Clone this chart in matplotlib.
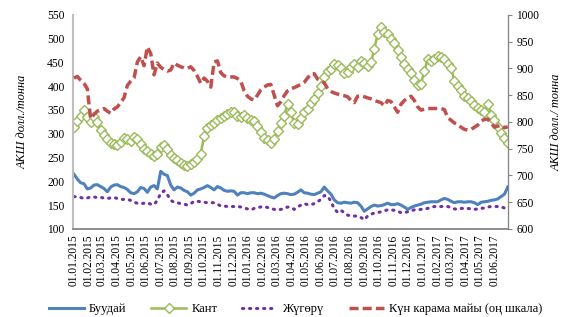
import pandas as pd
import matplotlib
matplotlib.use('Agg')
import matplotlib.pyplot as plt
import matplotlib.dates as mdates

plt.rcParams['font.family'] = ['Liberation Serif', 'DejaVu Serif']

# weekly observations, 01.01.2015 - 29.06.2017
dates = pd.date_range('2015-01-01', periods=131, freq='7D')

# wheat, USD/t (left axis)
wheat = [215, 205, 197, 195, 184, 186, 192, 193, 189, 185, 178, 188, 192, 193, 189, 187,
         183, 176, 174, 178, 187, 185, 177, 188, 191, 184, 221, 215, 212, 192, 182, 188,
         186, 181, 178, 171, 175, 182, 184, 187, 191, 187, 182, 189, 186, 181, 179, 180,
         179, 171, 176, 176, 174, 176, 176, 174, 175, 173, 170, 167, 165, 170, 174, 175,
         174, 172, 173, 177, 182, 176, 175, 173, 172, 175, 178, 188, 180, 173, 161, 155,
         154, 156, 155, 154, 156, 155, 148, 137, 142, 147, 150, 148, 149, 151, 154, 151,
         151, 153, 150, 146, 141, 145, 148, 150, 152, 155, 156, 157, 157, 157, 161, 164,
         162, 158, 155, 157, 157, 156, 157, 157, 155, 151, 156, 157, 158, 160, 161, 163,
         168, 173, 188]

# sugar, USD/t (left axis)
sugar = [314, 326, 338, 349, 335, 325, 336, 324, 308, 298, 288, 281, 279, 276, 282, 292,
         290, 284, 293, 290, 278, 268, 263, 257, 253, 258, 273, 277, 268, 255, 250, 244,
         238, 234, 233, 236, 240, 246, 258, 295, 312, 318, 322, 328, 334, 338, 342, 345,
         345, 337, 335, 339, 334, 330, 327, 316, 304, 292, 286, 280, 288, 305, 322, 338,
         362, 345, 322, 320, 334, 345, 352, 364, 374, 386, 400, 420, 432, 437, 447, 445,
         438, 428, 430, 440, 446, 440, 452, 448, 442, 450, 478, 510, 524, 515, 510, 500,
         490, 477, 462, 446, 436, 428, 413, 402, 405, 432, 458, 454, 458, 464, 462, 457,
         446, 438, 412, 400, 393, 380, 375, 368, 360, 355, 350, 345, 362, 340, 328, 314,
         302, 292, 280]

# maize, USD/t (left axis)
maize = [168, 167, 166, 164, 165, 167, 167, 166, 166, 165, 164, 165, 166, 164, 162, 162,
         162, 160, 156, 154, 153, 154, 155, 152, 151, 160, 175, 180, 172, 160, 156, 155,
         153, 152, 150, 153, 158, 158, 157, 156, 155, 155, 155, 152, 148, 148, 147, 147,
         147, 147, 146, 144, 142, 140, 143, 145, 146, 147, 145, 143, 141, 140, 141, 143,
         146, 145, 141, 146, 150, 153, 151, 151, 153, 157, 162, 170, 169, 158, 142, 135,
         139, 134, 129, 127, 127, 127, 124, 119, 127, 131, 133, 134, 136, 138, 140, 140,
         139, 137, 134, 134, 136, 138, 140, 140, 141, 142, 143, 145, 147, 147, 147, 147,
         147, 145, 142, 141, 143, 143, 143, 142, 141, 142, 143, 144, 146, 147, 147, 147,
         146, 144, 141]

# sunflower oil, USD/t (right axis)
sunoil = [882, 885, 878, 872, 862, 806, 814, 820, 822, 825, 820, 816, 824, 828, 836, 845,
          868, 876, 882, 912, 922, 905, 940, 928, 888, 910, 902, 898, 895, 897, 910, 906,
          903, 901, 900, 903, 896, 885, 872, 882, 876, 865, 912, 914, 892, 886, 884, 884,
          884, 881, 876, 858, 848, 843, 841, 850, 860, 865, 869, 870, 850, 830, 838, 849,
          858, 862, 864, 867, 870, 874, 882, 890, 890, 880, 877, 873, 862, 857, 854, 852,
          850, 849, 847, 840, 836, 848, 849, 847, 845, 843, 840, 838, 836, 830, 840, 838,
          828, 818, 833, 840, 844, 848, 840, 828, 822, 824, 825, 825, 825, 825, 825, 823,
          808, 803, 798, 795, 790, 786, 785, 786, 790, 794, 801, 805, 805, 798, 790, 792,
          794, 789, 791]

labels = ['Буудай', 'Кант', 'Жүгөрү', 'Күн карама майы (оң шкала)']

fig = plt.figure(figsize=(5.68, 3.17), dpi=100)
ax = fig.add_axes([0.1285, 0.278, 0.7655, 0.675])
ax2 = ax.twinx()

l1, = ax.plot(dates, wheat, color='#4F81BD', lw=2.2)
l2, = ax.plot(dates, sugar, color='#9BBB59', lw=1.8, marker='D', ms=5,
              mfc='white', mec='#9BBB59', mew=1.0)
l3, = ax.plot(dates, maize, color='#7030A0', lw=2.2, linestyle=(0, (0.4, 1.9)),
              dash_capstyle='round')
l4, = ax2.plot(dates, sunoil, color='#C0504D', lw=2.5, linestyle=(0, (2.6, 1.2)))

ax.set_ylim(100, 550)
ax.set_yticks(range(100, 551, 50))
ax2.set_ylim(600, 1000)
ax2.set_yticks(range(600, 1001, 50))
ax.set_xlim(pd.Timestamp('2014-12-30'), pd.Timestamp('2017-06-29'))

ax.xaxis.set_major_locator(mdates.MonthLocator(bymonthday=1))
ax.xaxis.set_major_formatter(mdates.DateFormatter('%d.%m.%Y'))
plt.setp(ax.get_xticklabels(), rotation=90)

for a in (ax, ax2):
    a.spines['top'].set_visible(False)
    a.tick_params(labelsize=8.3, colors='black')
ax.spines['left'].set_color('#BFBFBF')
ax.spines['left'].set_linewidth(1.5)
ax.spines['bottom'].set_color('#868686')
ax.spines['bottom'].set_linewidth(1.3)
ax2.spines['left'].set_visible(False)
ax2.spines['bottom'].set_visible(False)
ax2.spines['right'].set_color('#868686')
ax.tick_params(axis='y', length=0, pad=6)
ax.tick_params(axis='x', length=0, pad=4)
ax2.tick_params(axis='y', length=3, color='#868686', pad=3)

ax.set_ylabel('АКШ долл./тонна', fontsize=8.8, style='italic', labelpad=13)
ax2.set_ylabel('АКШ долл./ тонна', fontsize=8.8, style='italic', labelpad=8)

fig.legend([l1, l2, l3, l4], labels, loc='center', bbox_to_anchor=(0.52, 0.025),
           ncol=4, frameon=False, fontsize=9, handlelength=2.8, columnspacing=2.0,
           handletextpad=0.4)

fig.savefig('out.png', dpi=100)
